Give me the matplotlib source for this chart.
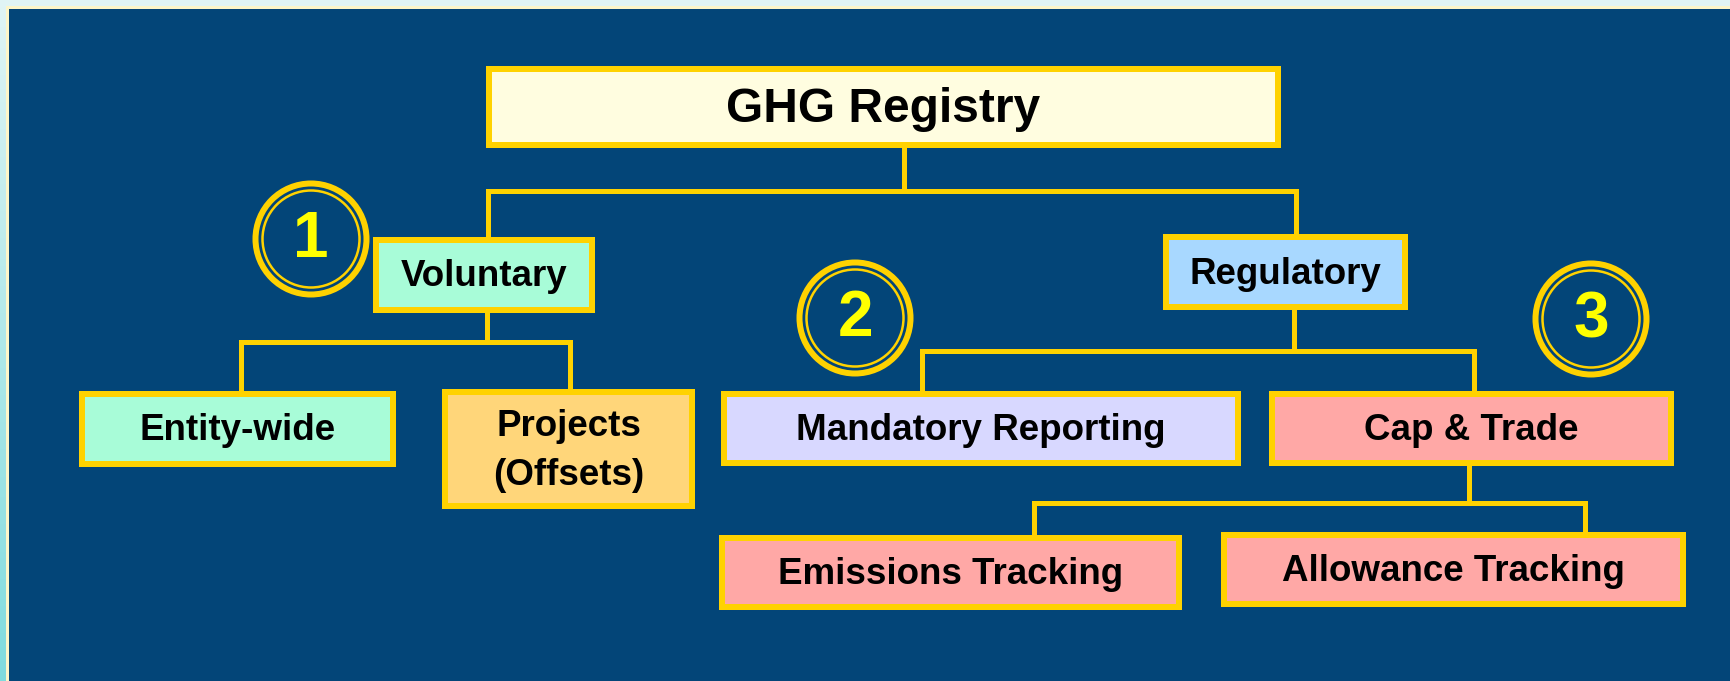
import matplotlib
matplotlib.use("Agg")
import matplotlib.pyplot as plt
import matplotlib.patches as pts
import numpy as np

W, H = 1730, 681

# tree content
labels = ["GHG Registry", "Voluntary", "Regulatory", "Entity-wide",
          "Projects\n(Offsets)", "Mandatory Reporting", "Cap & Trade",
          "Emissions Tracking", "Allowance Tracking"]
parent = [None, 0, 0, 1, 1, 2, 2, 6, 6]
badges = ["1", "2", "3"]

# layout (pixels, outer edge of the gold border)
box = [(486, 66, 1281, 148), (373, 237, 595, 313), (1163, 234, 1408, 310),
       (79, 391, 396, 467), (442, 389, 695, 509), (721, 391, 1241, 466),
       (1269, 391, 1674, 466), (719, 535, 1182, 610), (1221, 532, 1686, 607)]
fills = ["#fffde0", "#a8fcd8", "#a8d8ff", "#a8fcd8", "#ffd67a", "#d8d8ff",
         "#ffa8a6", "#ffa8a6", "#ffa8a6"]
fsize = [34.5, 26.5, 26.5, 26.5, 26.5, 26.5, 26.5, 26.5, 26.5]
# per parent: stem x, bus y ; per child: drop x
stem = {0: (904, 191), 1: (487, 342), 2: (1294, 351), 6: (1469, 503)}
drop = {1: 488, 2: 1296, 3: 241, 4: 570, 5: 922, 6: 1474, 7: 1034, 8: 1585}
badge_xy = [(311, 239), (855, 318), (1591, 319)]

GOLD = "#ffd200"
NAVY = "#034578"
FONT = "Liberation Sans"

fig = plt.figure(figsize=(W / 100, H / 100), dpi=100)
ax = fig.add_axes([0, 0, 1, 1])
ax.set_xlim(0, W)
ax.set_ylim(H, 0)
ax.axis("off")

# light frame with a soft vertical gradient, thin cream line, navy panel
grad = np.linspace(0, 1, 100).reshape(-1, 1)
c0 = np.array([0.88, 0.96, 0.96])
c1 = np.array([0.50, 0.86, 0.87])
img = c0 + (c1 - c0) * grad[:, :, None]
ax.imshow(img, extent=[0, W, H, 0], aspect="auto", zorder=0)
ax.add_patch(pts.Rectangle((6, 6), W, H, facecolor="#fdf6c8", edgecolor="none", zorder=1))
ax.add_patch(pts.Rectangle((9, 9), W, H, facecolor=NAVY, edgecolor="none", zorder=2))

px = 72 / 100  # points per pixel
line_kw = dict(color=GOLD, lw=5 * px, solid_capstyle="projecting", zorder=3)

# elbow connectors
for p, (sx, by) in stem.items():
    kids = [i for i in range(len(labels)) if parent[i] == p]
    ax.plot([sx, sx], [box[p][3], by], **line_kw)
    xs = [drop[k] for k in kids]
    ax.plot([min(xs), max(xs)], [by, by], **line_kw)
    for k in kids:
        ax.plot([drop[k], drop[k]], [by, box[k][1]], **line_kw)

# boxes
bw = 6
for i, lab in enumerate(labels):
    x0, y0, x1, y1 = box[i]
    ax.add_patch(pts.Rectangle((x0 + bw / 2, y0 + bw / 2), x1 - x0 - bw, y1 - y0 - bw,
                               facecolor=fills[i], edgecolor=GOLD, lw=bw * px,
                               joinstyle="miter", zorder=4))
    ax.text((x0 + x1) / 2, (y0 + y1) / 2 + 2, lab, ha="center", va="center",
            fontsize=fsize[i], fontweight="bold", family=FONT, color="black",
            linespacing=1.5, zorder=5)

# numbered badges
for (cx, cy), b in zip(badge_xy, badges):
    ax.add_patch(pts.Circle((cx, cy), 55.5, facecolor=NAVY, edgecolor=GOLD,
                            lw=6 * px, zorder=4))
    ax.add_patch(pts.Circle((cx, cy), 48.5, facecolor="none", edgecolor=GOLD,
                            lw=2.5 * px, zorder=4))
    ax.text(cx, cy + 1, b, ha="center", va="center", fontsize=46,
            fontweight="bold", family=FONT, color="#ffff00", zorder=5)

fig.savefig("out.png", dpi=100, facecolor=fig.get_facecolor())
